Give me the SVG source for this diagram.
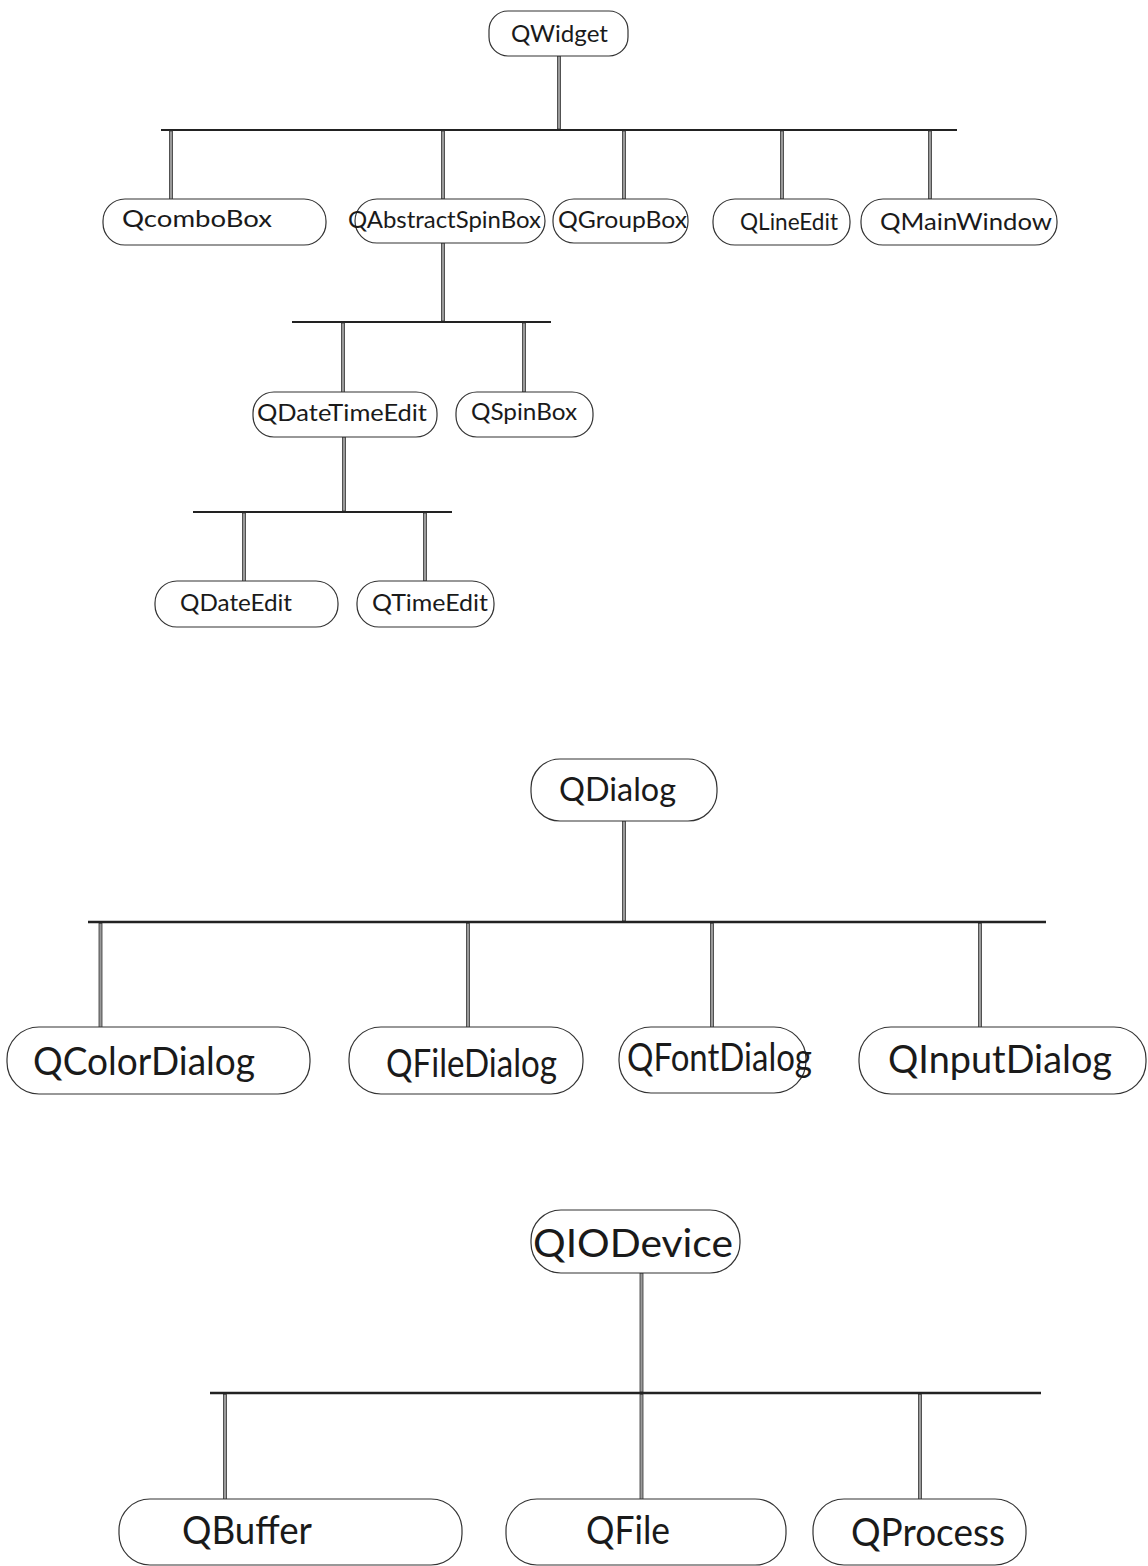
<svg xmlns="http://www.w3.org/2000/svg" width="1148" height="1566" viewBox="0 0 1148 1566">
<style>
.box{fill:#fff;stroke:#333;stroke-width:1.2}
.t{font-family:Lato,"Open Sans","Liberation Sans",sans-serif;fill:#1a1a1a}
.s{font-size:24px}
.m{font-size:32px}
.l{font-size:38px}
.h{stroke:#222;stroke-width:2;fill:none}
.hb{stroke:#222;stroke-width:2.6;fill:none}
.v{fill:#9a9a9a;stroke:#333;stroke-width:0.8}
</style>
<rect width="1148" height="1566" fill="#fff"/>
<g id="connectors">
  <rect class="v" x="557.5" y="56" width="3" height="73"/>
  <line class="h" x1="161" y1="130" x2="957" y2="130"/>
  <rect class="v" x="169.5" y="131" width="3" height="70"/>
  <rect class="v" x="441.5" y="131" width="3" height="68"/>
  <rect class="v" x="622.5" y="131" width="3" height="68"/>
  <rect class="v" x="780.5" y="131" width="3" height="68"/>
  <rect class="v" x="928.5" y="131" width="3" height="68"/>
  <rect class="v" x="441.5" y="243" width="3" height="78"/>
  <line class="h" x1="292" y1="322" x2="551" y2="322"/>
  <rect class="v" x="341.5" y="323" width="3" height="70"/>
  <rect class="v" x="522.5" y="323" width="3" height="69"/>
  <rect class="v" x="342.5" y="437" width="3" height="74"/>
  <line class="h" x1="193" y1="512" x2="452" y2="512"/>
  <rect class="v" x="242.5" y="513" width="3" height="70"/>
  <rect class="v" x="423.5" y="513" width="3" height="68"/>
  <rect class="v" x="622.5" y="821" width="3" height="100"/>
  <line class="hb" x1="88" y1="922" x2="1046" y2="922"/>
  <rect class="v" x="99" y="923.5" width="3" height="104"/>
  <rect class="v" x="466.5" y="923.5" width="3" height="104"/>
  <rect class="v" x="710.5" y="923.5" width="3" height="104"/>
  <rect class="v" x="978.5" y="923.5" width="3" height="104"/>
  <rect class="v" x="640" y="1273" width="3" height="119"/>
  <line class="hb" x1="210" y1="1393" x2="1041" y2="1393"/>
  <rect class="v" x="223.5" y="1394.5" width="3" height="110"/>
  <rect class="v" x="640" y="1394.5" width="3" height="110"/>
  <rect class="v" x="918.5" y="1394.5" width="3" height="110"/>
</g>
<g id="QWidget"><rect class="box" x="489" y="11" width="139" height="45" rx="19"/><text class="t s" x="511" y="42" textLength="97" lengthAdjust="spacingAndGlyphs">QWidget</text></g>
<g id="QcomboBox"><rect class="box" x="103" y="199" width="223" height="46" rx="22"/><text class="t s" x="122" y="227" textLength="150" lengthAdjust="spacingAndGlyphs">QcomboBox</text></g>
<g id="QAbstractSpinBox"><rect class="box" x="355" y="199" width="190" height="44" rx="22"/><text class="t s" x="348" y="228" textLength="193" lengthAdjust="spacingAndGlyphs">QAbstractSpinBox</text></g>
<g id="QGroupBox"><rect class="box" x="553" y="199" width="135" height="44" rx="21"/><text class="t s" x="558" y="228" textLength="129" lengthAdjust="spacingAndGlyphs">QGroupBox</text></g>
<g id="QLineEdit"><rect class="box" x="713" y="199" width="137" height="46" rx="22"/><text class="t s" x="740" y="230" textLength="98" lengthAdjust="spacingAndGlyphs">QLineEdit</text></g>
<g id="QMainWindow"><rect class="box" x="861" y="199" width="196" height="46" rx="22"/><text class="t s" x="880" y="230" textLength="172" lengthAdjust="spacingAndGlyphs">QMainWindow</text></g>
<g id="QDateTimeEdit"><rect class="box" x="253" y="392" width="184" height="45" rx="21"/><text class="t s" x="257" y="421" textLength="170" lengthAdjust="spacingAndGlyphs">QDateTimeEdit</text></g>
<g id="QSpinBox"><rect class="box" x="456" y="392" width="137" height="45" rx="21"/><text class="t s" x="471" y="420" textLength="106" lengthAdjust="spacingAndGlyphs">QSpinBox</text></g>
<g id="QDateEdit"><rect class="box" x="155" y="581" width="183" height="46" rx="22"/><text class="t s" x="180" y="611" textLength="112" lengthAdjust="spacingAndGlyphs">QDateEdit</text></g>
<g id="QTimeEdit"><rect class="box" x="357" y="581" width="137" height="46" rx="22"/><text class="t s" x="372" y="611" textLength="116" lengthAdjust="spacingAndGlyphs">QTimeEdit</text></g>
<g id="QDialog"><rect class="box" x="531" y="759" width="186" height="62" rx="29"/><text class="t m" x="559" y="801" textLength="117" lengthAdjust="spacingAndGlyphs">QDialog</text></g>
<g id="QColorDialog"><rect class="box" x="7" y="1027" width="303" height="67" rx="32"/><text class="t l" x="33" y="1075" textLength="222" lengthAdjust="spacingAndGlyphs">QColorDialog</text></g>
<g id="QFileDialog"><rect class="box" x="349" y="1027" width="234" height="67" rx="32"/><text class="t l" x="386" y="1077" textLength="171" lengthAdjust="spacingAndGlyphs">QFileDialog</text></g>
<g id="QFontDialog"><rect class="box" x="619" y="1027" width="187" height="66" rx="32"/><text class="t l" x="627" y="1071" textLength="185" lengthAdjust="spacingAndGlyphs">QFontDialog</text></g>
<g id="QInputDialog"><rect class="box" x="859" y="1027" width="287" height="67" rx="32"/><text class="t l" x="888" y="1073" textLength="224" lengthAdjust="spacingAndGlyphs">QInputDialog</text></g>
<g id="QIODevice"><rect class="box" x="531" y="1210" width="209" height="63" rx="30"/><text class="t l" x="533" y="1257" textLength="200" lengthAdjust="spacingAndGlyphs">QIODevice</text></g>
<g id="QBuffer"><rect class="box" x="119" y="1499" width="343" height="66" rx="31"/><text class="t l" x="182" y="1544" textLength="130" lengthAdjust="spacingAndGlyphs">QBuffer</text></g>
<g id="QFile"><rect class="box" x="506" y="1499" width="280" height="66" rx="31"/><text class="t l" x="586" y="1544" textLength="84" lengthAdjust="spacingAndGlyphs">QFile</text></g>
<g id="QProcess"><rect class="box" x="813" y="1499" width="213" height="66" rx="31"/><text class="t l" x="851" y="1546" textLength="154" lengthAdjust="spacingAndGlyphs">QProcess</text></g>
</svg>
